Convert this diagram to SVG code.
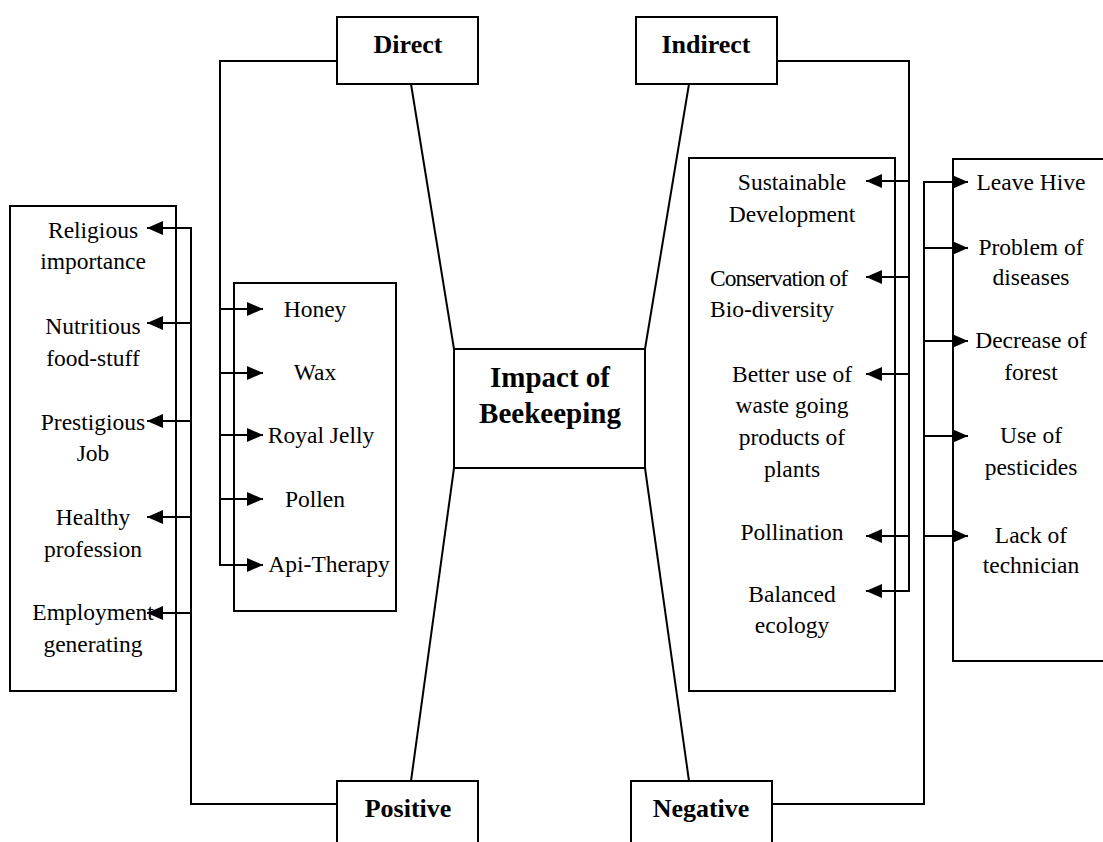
<svg xmlns="http://www.w3.org/2000/svg" width="1103" height="842" viewBox="0 0 1103 842">
<style>
.box{fill:#fff;stroke:#000;stroke-width:2}
.ln{fill:none;stroke:#000;stroke-width:2}
.t{font-family:"Liberation Serif","Times New Roman",serif;font-size:23.5px;fill:#000;text-anchor:middle}
.b{font-family:"Liberation Serif","Times New Roman",serif;font-size:26px;font-weight:bold;fill:#000;text-anchor:middle}
.title{font-family:"Liberation Serif","Times New Roman",serif;font-size:29px;font-weight:bold;fill:#000;text-anchor:middle}
</style>
<defs>
<marker id="ah" markerUnits="userSpaceOnUse" markerWidth="16" markerHeight="14" refX="16" refY="7" orient="auto">
<path d="M0,0 L16,7 L0,14 z" fill="#000"/>
</marker>
</defs>
<rect width="1103" height="842" fill="#fff"/>

<g id="positive-list">
<rect class="box" x="10" y="206" width="166" height="485"/>
<text class="t" x="93" y="238">Religious</text>
<text class="t" x="93" y="269">importance</text>
<text class="t" x="93" y="334">Nutritious</text>
<text class="t" x="93" y="366">food-stuff</text>
<text class="t" x="93" y="430">Prestigious</text>
<text class="t" x="93" y="461">Job</text>
<text class="t" x="93" y="525">Healthy</text>
<text class="t" x="93" y="557">profession</text>
<text class="t" x="93" y="620">Employment</text>
<text class="t" x="93" y="652">generating</text>
</g>

<g id="direct-list">
<rect class="box" x="234" y="283" width="162" height="328"/>
<text class="t" x="315" y="317">Honey</text>
<text class="t" x="315" y="380">Wax</text>
<text class="t" x="321" y="443">Royal Jelly</text>
<text class="t" x="315" y="507">Pollen</text>
<text class="t" x="329" y="572">Api-Therapy</text>
</g>

<g id="indirect-list">
<rect class="box" x="689" y="158" width="206" height="533"/>
<text class="t" x="792" y="190">Sustainable</text>
<text class="t" x="792" y="222">Development</text>
<text class="t" x="710" y="286" style="text-anchor:start" textLength="138" lengthAdjust="spacing">Conservation of</text>
<text class="t" x="710" y="317" style="text-anchor:start">Bio-diversity</text>
<text class="t" x="792" y="382">Better use of</text>
<text class="t" x="792" y="413">waste going</text>
<text class="t" x="792" y="445">products of</text>
<text class="t" x="792" y="477">plants</text>
<text class="t" x="792" y="540">Pollination</text>
<text class="t" x="792" y="602">Balanced</text>
<text class="t" x="792" y="633">ecology</text>
</g>

<g id="negative-list">
<rect class="box" x="953" y="159" width="160" height="502"/>
<text class="t" x="1031" y="190">Leave Hive</text>
<text class="t" x="1031" y="255">Problem of</text>
<text class="t" x="1031" y="285">diseases</text>
<text class="t" x="1031" y="348">Decrease of</text>
<text class="t" x="1031" y="380">forest</text>
<text class="t" x="1031" y="443">Use of</text>
<text class="t" x="1031" y="475">pesticides</text>
<text class="t" x="1031" y="543">Lack of</text>
<text class="t" x="1031" y="573">technician</text>
</g>

<g id="connectors">
<line class="ln" x1="411" y1="84" x2="454" y2="349"/>
<line class="ln" x1="689" y1="84" x2="645" y2="349"/>
<line class="ln" x1="454" y1="468" x2="411" y2="781"/>
<line class="ln" x1="645" y1="468" x2="689" y2="781"/>

<path class="ln" d="M337,61 H220 V565 H263" marker-end="url(#ah)"/>
<line class="ln" x1="220" y1="309" x2="263" y2="309" marker-end="url(#ah)"/>
<line class="ln" x1="220" y1="373" x2="263" y2="373" marker-end="url(#ah)"/>
<line class="ln" x1="220" y1="435" x2="263" y2="435" marker-end="url(#ah)"/>
<line class="ln" x1="220" y1="499" x2="263" y2="499" marker-end="url(#ah)"/>

<path class="ln" d="M337,804 H191 V228 H147" marker-end="url(#ah)"/>
<line class="ln" x1="191" y1="323" x2="147" y2="323" marker-end="url(#ah)"/>
<line class="ln" x1="191" y1="421" x2="147" y2="421" marker-end="url(#ah)"/>
<line class="ln" x1="191" y1="517" x2="147" y2="517" marker-end="url(#ah)"/>
<line class="ln" x1="191" y1="613" x2="147" y2="613" marker-end="url(#ah)"/>

<path class="ln" d="M777,61 H909 V591 H866" marker-end="url(#ah)"/>
<line class="ln" x1="909" y1="181" x2="866" y2="181" marker-end="url(#ah)"/>
<line class="ln" x1="909" y1="277" x2="866" y2="277" marker-end="url(#ah)"/>
<line class="ln" x1="909" y1="374" x2="866" y2="374" marker-end="url(#ah)"/>
<line class="ln" x1="909" y1="536" x2="866" y2="536" marker-end="url(#ah)"/>

<path class="ln" d="M772,804 H924 V182 H968" marker-end="url(#ah)"/>
<line class="ln" x1="924" y1="248" x2="968" y2="248" marker-end="url(#ah)"/>
<line class="ln" x1="924" y1="341" x2="968" y2="341" marker-end="url(#ah)"/>
<line class="ln" x1="924" y1="436" x2="968" y2="436" marker-end="url(#ah)"/>
<line class="ln" x1="924" y1="536" x2="968" y2="536" marker-end="url(#ah)"/>
</g>

<g id="direct">
<rect class="box" x="337" y="17" width="141" height="67"/>
<text class="b" x="408" y="53">Direct</text>
</g>
<g id="indirect">
<rect class="box" x="636" y="17" width="141" height="67"/>
<text class="b" x="706" y="53">Indirect</text>
</g>
<g id="center">
<rect class="box" x="454" y="349" width="191" height="119"/>
<text class="title" x="550" y="387">Impact of</text>
<text class="title" x="550" y="423">Beekeeping</text>
</g>
<g id="positive">
<rect class="box" x="337" y="781" width="141" height="75"/>
<text class="b" x="408" y="817">Positive</text>
</g>
<g id="negative">
<rect class="box" x="631" y="781" width="141" height="75"/>
<text class="b" x="701" y="817">Negative</text>
</g>
</svg>
